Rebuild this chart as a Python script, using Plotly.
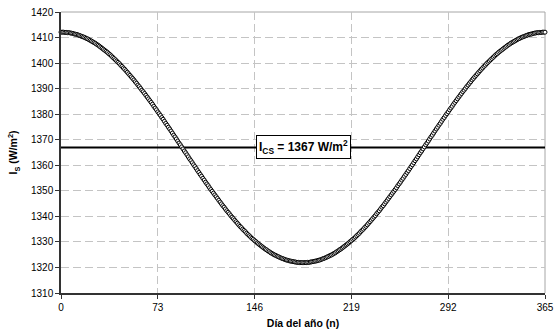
import plotly.graph_objects as go

# Day of the year (n)
days = list(range(0, 366))

# Extraterrestrial solar irradiance I_S (W/m2), one value per day
irradiance = [
    1412.1, 1412.1, 1412.1, 1412.0, 1412.0, 1411.9, 1411.9, 1411.8, 1411.7, 1411.6,
    1411.4, 1411.3, 1411.2, 1411.0, 1410.8, 1410.6, 1410.4, 1410.2, 1410.0, 1409.7,
    1409.5, 1409.2, 1408.9, 1408.6, 1408.3, 1408.0, 1407.7, 1407.3, 1407.0, 1406.6,
    1406.2, 1405.8, 1405.4, 1405.0, 1404.6, 1404.2, 1403.7, 1403.3, 1402.8, 1402.3,
    1401.8, 1401.3, 1400.8, 1400.3, 1399.8, 1399.2, 1398.7, 1398.1, 1397.6, 1397.0,
    1396.4, 1395.8, 1395.2, 1394.6, 1394.0, 1393.4, 1392.7, 1392.1, 1391.4, 1390.8,
    1390.1, 1389.4, 1388.8, 1388.1, 1387.4, 1386.7, 1386.0, 1385.3, 1384.6, 1383.9,
    1383.1, 1382.4, 1381.7, 1380.9, 1380.2, 1379.5, 1378.7, 1378.0, 1377.2, 1376.4,
    1375.7, 1374.9, 1374.2, 1373.4, 1372.6, 1371.8, 1371.1, 1370.3, 1369.5, 1368.7,
    1368.0, 1367.2, 1366.4, 1365.6, 1364.9, 1364.1, 1363.3, 1362.5, 1361.8, 1361.0,
    1360.2, 1359.5, 1358.7, 1357.9, 1357.2, 1356.4, 1355.7, 1354.9, 1354.2, 1353.4,
    1352.7, 1352.0, 1351.2, 1350.5, 1349.8, 1349.1, 1348.4, 1347.7, 1347.0, 1346.3,
    1345.6, 1344.9, 1344.2, 1343.6, 1342.9, 1342.2, 1341.6, 1341.0, 1340.3, 1339.7,
    1339.1, 1338.5, 1337.9, 1337.3, 1336.7, 1336.1, 1335.6, 1335.0, 1334.5, 1334.0,
    1333.4, 1332.9, 1332.4, 1331.9, 1331.4, 1331.0, 1330.5, 1330.1, 1329.6, 1329.2,
    1328.8, 1328.4, 1328.0, 1327.6, 1327.2, 1326.9, 1326.5, 1326.2, 1325.8, 1325.5,
    1325.2, 1324.9, 1324.7, 1324.4, 1324.2, 1323.9, 1323.7, 1323.5, 1323.3, 1323.1,
    1322.9, 1322.8, 1322.6, 1322.5, 1322.4, 1322.3, 1322.2, 1322.1, 1322.0, 1322.0,
    1321.9, 1321.9, 1321.9,
    1321.9, 1321.9, 1321.9, 1322.0, 1322.0, 1322.1, 1322.2, 1322.3, 1322.4, 1322.5,
    1322.6, 1322.8, 1322.9, 1323.1, 1323.3, 1323.5, 1323.7, 1323.9, 1324.2, 1324.4,
    1324.7, 1324.9, 1325.2, 1325.5, 1325.8, 1326.2, 1326.5, 1326.9, 1327.2, 1327.6,
    1328.0, 1328.4, 1328.8, 1329.2, 1329.6, 1330.1, 1330.5, 1331.0, 1331.4, 1331.9,
    1332.4, 1332.9, 1333.4, 1334.0, 1334.5, 1335.0, 1335.6, 1336.1, 1336.7, 1337.3,
    1337.9, 1338.5, 1339.1, 1339.7, 1340.3, 1341.0, 1341.6, 1342.2, 1342.9, 1343.6,
    1344.2, 1344.9, 1345.6, 1346.3, 1347.0, 1347.7, 1348.4, 1349.1, 1349.8, 1350.5,
    1351.2, 1352.0, 1352.7, 1353.4, 1354.2, 1354.9, 1355.7, 1356.4, 1357.2, 1357.9,
    1358.7, 1359.5, 1360.2, 1361.0, 1361.8, 1362.5, 1363.3, 1364.1, 1364.9, 1365.6,
    1366.4, 1367.2, 1368.0, 1368.7, 1369.5, 1370.3, 1371.1, 1371.8, 1372.6, 1373.4,
    1374.2, 1374.9, 1375.7, 1376.4, 1377.2, 1378.0, 1378.7, 1379.5, 1380.2, 1380.9,
    1381.7, 1382.4, 1383.1, 1383.9, 1384.6, 1385.3, 1386.0, 1386.7, 1387.4, 1388.1,
    1388.8, 1389.4, 1390.1, 1390.8, 1391.4, 1392.1, 1392.7, 1393.4, 1394.0, 1394.6,
    1395.2, 1395.8, 1396.4, 1397.0, 1397.6, 1398.1, 1398.7, 1399.2, 1399.8, 1400.3,
    1400.8, 1401.3, 1401.8, 1402.3, 1402.8, 1403.3, 1403.7, 1404.2, 1404.6, 1405.0,
    1405.4, 1405.8, 1406.2, 1406.6, 1407.0, 1407.3, 1407.7, 1408.0, 1408.3, 1408.6,
    1408.9, 1409.2, 1409.5, 1409.7, 1410.0, 1410.2, 1410.4, 1410.6, 1410.8, 1411.0,
    1411.2, 1411.3, 1411.4, 1411.6, 1411.7, 1411.8, 1411.9, 1411.9, 1412.0, 1412.0,
    1412.1, 1412.1, 1412.1,
]

# Solar constant line
solar_constant = 1367
constant_span = [0, 365]

x_ticks = [0, 73, 146, 219, 292, 365]
y_ticks = [1310, 1320, 1330, 1340, 1350, 1360, 1370, 1380, 1390, 1400, 1410, 1420]

FONT = "Liberation Sans, Arial, Helvetica, sans-serif"
AXIS_COLOR = "#333333"
GRID_COLOR = "#c4c4c4"

fig = go.Figure()

fig.add_trace(go.Scatter(
    x=constant_span,
    y=[solar_constant, solar_constant],
    mode="lines",
    line=dict(color="black", width=2),
    hoverinfo="skip",
    showlegend=False,
))

fig.add_trace(go.Scatter(
    x=days,
    y=irradiance,
    mode="markers",
    marker=dict(symbol="circle", size=4, color="white",
                line=dict(color="black", width=1)),
    cliponaxis=False,
    showlegend=False,
))

fig.add_annotation(
    x=183, y=solar_constant, xref="x", yref="y",
    text="<b>I<sub>CS</sub> = 1367 W/m<sup>2</sup></b>",
    showarrow=False,
    font=dict(family=FONT, size=12, color="black"),
    bgcolor="white", bordercolor="black", borderwidth=1, borderpad=2,
    xanchor="center", yanchor="middle",
)

# top and right border of the plot area (grey)
fig.add_shape(type="path", xref="paper", yref="paper",
              path="M 0,1 L 1,1 L 1,0",
              line=dict(color="#a6a6a6", width=1), layer="between")

fig.update_layout(
    width=558, height=336,
    margin=dict(l=61, r=4, t=12, b=43),
    paper_bgcolor="white", plot_bgcolor="white",
    font=dict(family=FONT, size=10, color="black"),
    showlegend=False,
    xaxis=dict(
        range=[0, 365], tickmode="array", tickvals=x_ticks,
        ticks="outside", ticklen=4, tickcolor=AXIS_COLOR, tickwidth=1,
        ticklabeloverflow="allow",
        showline=True, linecolor=AXIS_COLOR, linewidth=1.5,
        showgrid=True, gridcolor=GRID_COLOR, gridwidth=1, griddash="8px,4px",
        zeroline=False,
        tickfont=dict(family=FONT, size=10, color="black"),
        title=dict(text="<b>Día del año (n)</b>",
                   font=dict(family=FONT, size=10.5, color="black"), standoff=8),
    ),
    yaxis=dict(
        range=[1310, 1420], tickmode="array", tickvals=y_ticks,
        ticks="outside", ticklen=4, tickcolor=AXIS_COLOR, tickwidth=1,
        showline=True, linecolor=AXIS_COLOR, linewidth=1.5,
        showgrid=True, gridcolor=GRID_COLOR, gridwidth=1, griddash="8px,4px",
        zeroline=False,
        tickfont=dict(family=FONT, size=10, color="black"),
        title=dict(text="<b>I<sub>S</sub> (W/m<sup>2</sup>)</b>",
                   font=dict(family=FONT, size=10.5, color="black"), standoff=11),
    ),
)

fig.write_html("out.html")
